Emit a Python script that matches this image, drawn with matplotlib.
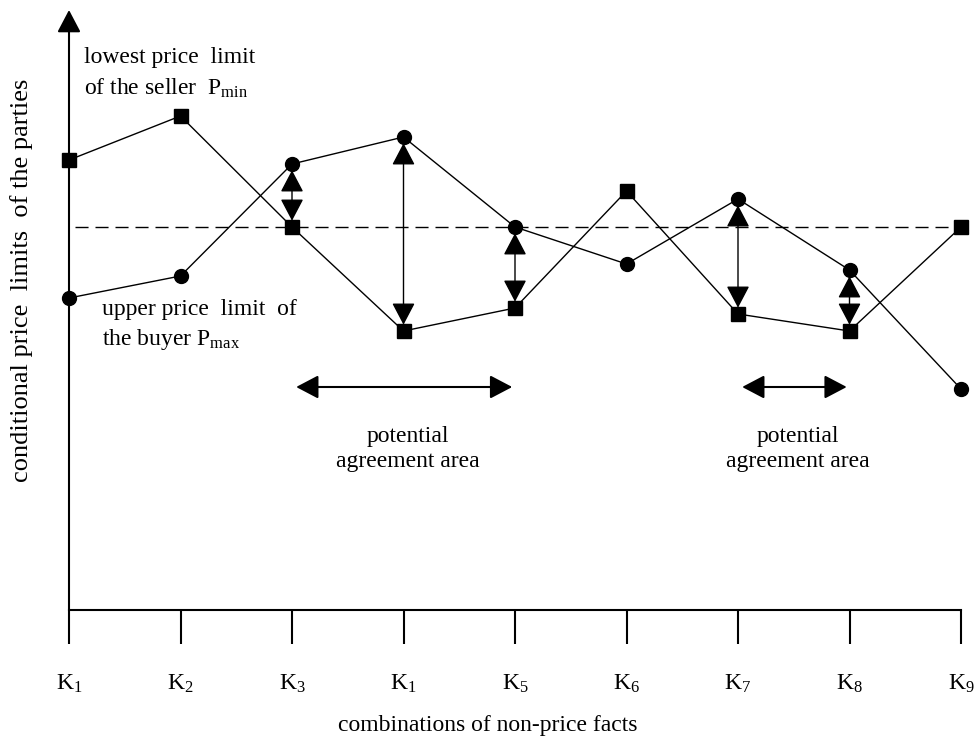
import matplotlib
matplotlib.use("Agg")
import matplotlib.pyplot as plt

plt.rcParams['font.family'] = 'Liberation Serif'
plt.rcParams['mathtext.fontset'] = 'custom'
plt.rcParams['mathtext.rm'] = 'Liberation Serif'
plt.rcParams['mathtext.it'] = 'Liberation Serif:italic'

# combinations of non-price facts (the 4th label reads K1 in the source figure)
k_labels = ['K$_1$', 'K$_2$', 'K$_3$', 'K$_1$', 'K$_5$', 'K$_6$', 'K$_7$', 'K$_8$', 'K$_9$']
# lowest price limit of the seller (squares)
seller = [450, 494, 383, 279, 302, 419, 296, 279, 383]
# upper price limit of the buyer (circles)
buyer = [312, 334, 446, 473, 383, 346, 411, 340, 221]
reference_level = 383
# where buyer and seller limits overlap
overlap_idx = [2, 3, 4, 6, 7]
# potential agreement areas (from, to)
areas = [(2, 4), (6, 7)]
area_level = 223

xs = list(range(len(k_labels)))

fig = plt.figure(figsize=(9.8, 7.4), dpi=100)
step = 111.5
ax = fig.add_axes([69 / 980, 130 / 740, 8.08 * step / 980, 600 / 740])
ax.set_xlim(0, 8.08)
ax.set_ylim(0, 600)

for s in ['top', 'right', 'left']:
    ax.spines[s].set_visible(False)
ax.spines['bottom'].set_bounds(0, 8)
ax.spines['bottom'].set_linewidth(1.5)
ax.set_yticks([])
ax.set_xticks(xs)
ax.set_xticklabels(k_labels, fontsize=17)
ax.tick_params(axis='x', direction='out', length=24.5, width=1.5, pad=21)

head = 'head_length=13.7,head_width=7.2'

# y axis with arrow head
ax.annotate('', xy=(0, 600), xytext=(0, 0), annotation_clip=False,
            arrowprops=dict(arrowstyle='-|>,' + head, mutation_scale=1, lw=1.5,
                            color='k', shrinkA=0, shrinkB=0))

ax.plot([0.05, 8.06], [reference_level] * 2, color='k', lw=1.0, dashes=(9.4, 5.0), zorder=1)

ax.plot(xs, seller, color='k', lw=1.0, marker='s', markersize=10.5, clip_on=False, zorder=3)
ax.plot(xs, buyer, color='k', lw=1.0, marker='o', markersize=10, clip_on=False, zorder=3)

for i in overlap_idx:
    ax.annotate('', xy=(i, buyer[i]), xytext=(i, seller[i]),
                arrowprops=dict(arrowstyle='<|-|>,' + head, mutation_scale=1, lw=1.0,
                                color='k', shrinkA=4.5, shrinkB=4.5))

for a, b in areas:
    ax.annotate('', xy=(b, area_level), xytext=(a, area_level),
                arrowprops=dict(arrowstyle='<|-|>,' + head, mutation_scale=1, lw=1.5,
                                color='k', shrinkA=3, shrinkB=2))
    mid = (a + b) / 2 + 0.04
    ax.text(mid, 168, 'potential', fontsize=17, ha='center', va='baseline')
    ax.text(mid, 143, 'agreement area', fontsize=17, ha='center', va='baseline')

ax.text(0.135, 547, 'lowest price  limit', fontsize=17, va='baseline')
ax.text(0.135, 515, r'of the seller  P$_{\mathrm{min}}$', fontsize=17, va='baseline')
ax.text(0.296, 295, 'upper price  limit  of', fontsize=17, va='baseline')
ax.text(0.296, 265, r'the buyer P$_{\mathrm{max}}$', fontsize=17, va='baseline')

fig.text(488 / 980, 1 - 726 / 740, 'combinations of non-price facts', fontsize=17,
         ha='center', va='center')
fig.text(22 / 980, 1 - 280 / 740, 'conditional price  limits  of the parties', fontsize=19,
         rotation=90, ha='center', va='center')

fig.savefig('out.png', dpi=100)
